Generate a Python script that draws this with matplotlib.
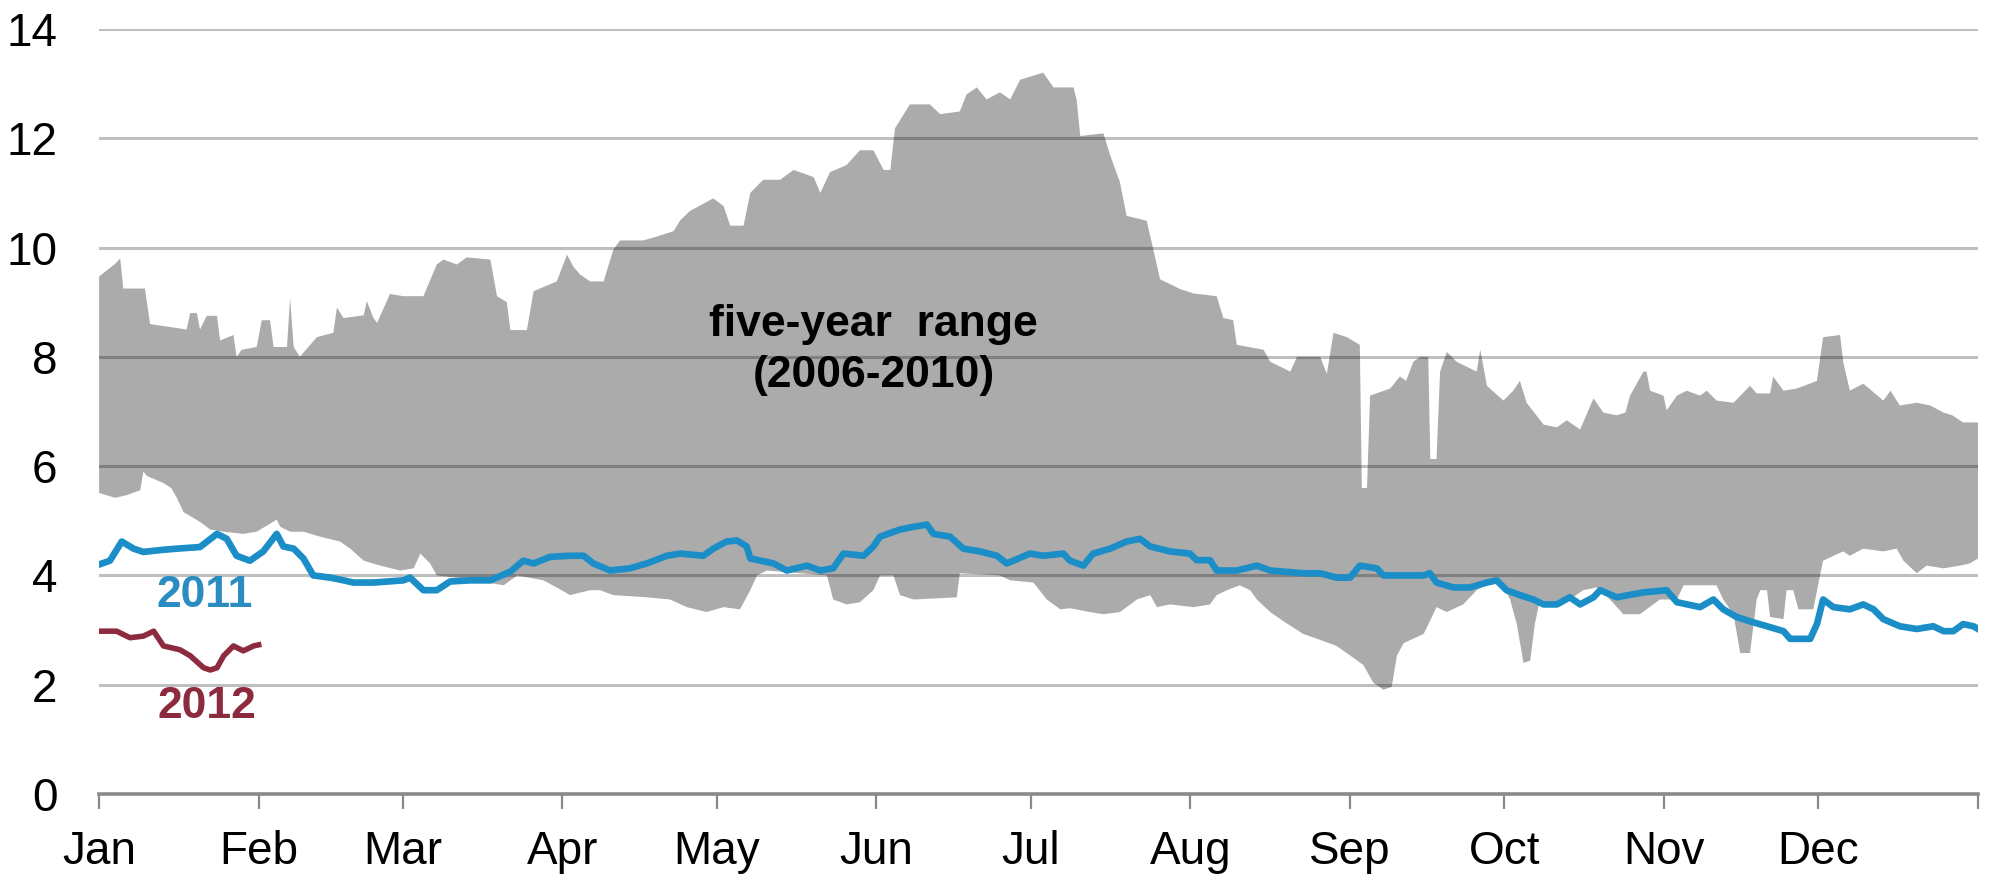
import numpy as np
import matplotlib
matplotlib.use("Agg")
import matplotlib.pyplot as plt

plt.rcParams['font.family'] = ['Liberation Sans', 'DejaVu Sans']

# ---- data (day of year, value) ----
upper_day = [0, 3.1, 4.1, 4.7, 8.9, 9.9, 17, 17.7, 19, 19.6, 20.9, 22.9, 23.5, 26.1, 26.7, 27.7, 30.6, 31.6,
             33.2, 33.9, 36.5, 37.1, 37.8, 39, 42.3, 45.5, 46.2, 47.5, 51.4, 52, 53.3, 54, 56.5, 59.1, 63,
             65.6, 66.9, 69.5, 71.4, 76, 77.3, 79.2, 79.9, 83.1, 84.4, 88.9, 90.9, 92.2, 93.4, 95.4, 98,
             99.9, 101.2, 105.7, 108.3, 111.6, 112.9, 114.8, 119.3, 121.3, 122.6, 125.2, 126.5, 129, 132.3,
             134.9, 138.8, 140.1, 142, 145.2, 147.8, 150.4, 152.4, 153.7, 154.6, 157.5, 161.4, 163.4, 167.2,
             168.5, 170.5, 172.4, 175, 177, 178.9, 183.4, 185.4, 189.3, 189.9, 190.6, 195.1, 196.4, 198.3,
             199.6, 203.5, 204.8, 206.1, 210, 212.6, 217.1, 218.4, 220.3, 221, 226.2, 227.5, 231.4, 232.7,
             237.2, 238.5, 239.8, 242.4, 244.9, 245.3, 246.3, 246.9, 250.8, 252.7, 253.9, 255.3, 256.6,
             258.2, 258.6, 259.8, 260.5, 261.8, 263.7, 267.6, 268.3, 269.6, 272.8, 274.7, 276, 277.3, 280.6,
             283.2, 285.1, 287.7, 290.3, 292.2, 294.8, 296.5, 297.4, 300, 300.6, 301.3, 303.9, 304.5, 306.5,
             308.4, 311, 312.3, 314.2, 317.5, 320.7, 322, 324.6, 325.2, 327.2, 329.8, 333.7, 334.9, 338.2,
             338.8, 340.1, 342.7, 346.6, 348, 349.8, 353.1, 355.7, 358.3, 360, 362.1, 365]
upper_val = [9.47, 9.7, 9.8, 9.25, 9.25, 8.6, 8.5, 8.8, 8.8, 8.5, 8.75, 8.75, 8.3, 8.4, 8.0, 8.13, 8.18, 8.67,
             8.67, 8.18, 8.18, 9.07, 8.18, 8.0, 8.36, 8.44, 8.9, 8.71, 8.76, 9.02, 8.71, 8.62, 9.15, 9.11, 9.11,
             9.69, 9.78, 9.69, 9.82, 9.78, 9.11, 9.0, 8.49, 8.49, 9.2, 9.38, 9.87, 9.64, 9.51, 9.38, 9.38,
             9.96, 10.13, 10.13, 10.2, 10.3, 10.5, 10.67, 10.9, 10.76, 10.4, 10.4, 11.0, 11.24, 11.24,
             11.42, 11.29, 11.0, 11.38, 11.51, 11.78, 11.78, 11.42, 11.42, 12.18, 12.62, 12.62, 12.44, 12.49,
             12.8, 12.93, 12.71, 12.84, 12.71, 13.07, 13.2, 12.93, 12.93, 12.7, 12.04, 12.09, 11.69, 11.2,
             10.58, 10.49, 9.96, 9.42, 9.24, 9.16, 9.11, 8.71, 8.67, 8.22, 8.13, 7.91, 7.73, 8.0,
             8.0, 7.69, 8.44, 8.36, 8.22, 5.6, 5.6, 7.29, 7.42, 7.64, 7.56, 7.91, 8.0,
             8.0, 6.13, 6.13, 7.73, 8.09, 7.91, 7.73, 8.13, 7.47, 7.2, 7.38, 7.56, 7.16, 6.76,
             6.71, 6.84, 6.67, 7.24, 6.98, 6.93, 6.98, 7.29, 7.73, 7.73, 7.38, 7.29, 7.02, 7.29,
             7.38, 7.29, 7.38, 7.2, 7.16, 7.47, 7.33, 7.33, 7.64, 7.38, 7.42, 7.56, 8.36, 8.4,
             7.91, 7.38, 7.51, 7.2, 7.38, 7.11, 7.16, 7.11, 6.98, 6.93, 6.8, 6.8]

lower_day = [0, 3.1, 5.4, 8, 8.6, 9.3, 12.5, 14, 15.1, 16.4, 19.6, 21.6, 24.2, 28, 30.6, 34.5, 35.2, 37.1,
             39.7, 42.9, 46.8, 48.8, 51.4, 54.6, 58.5, 61.1, 62.4, 64.3, 65.6, 69.5, 78.6, 81.2, 86.3, 88.9,
             91.5, 95.4, 97.3, 99.9, 106.4, 110.9, 114.2, 118, 121.3, 124.5, 126.5, 127.8, 129.7, 141.4,
             142.6, 145.2, 147.8, 150.4, 151.7, 154.3, 155.6, 158.2, 166.6, 167.2, 175, 177, 181.5, 184.1,
             186.7, 188.6, 192.5, 195.1, 198.3, 201.6, 204.2, 205.5, 208, 212.6, 215.8, 217.1, 219.1, 221.6,
             223.6, 224.9, 227.5, 230.1, 233.9, 237.8, 240.4, 243.7, 245.6, 247.5, 249.5, 251.1, 252.1,
             253.4, 257.3, 258.5, 259.8, 261.8, 265, 267.6, 270.8, 272.1, 274.1, 275.4, 276.7, 278, 278.9,
             279.9, 282.5, 285.7, 288.3, 290.9, 293.5, 296.1, 299.3, 300.6, 303.2, 306.5, 307.8, 311, 314.2,
             315.5, 317.5, 318.8, 320.7, 321.4, 322, 322.7, 324, 324.6, 327.2, 327.8, 329.1, 330.1, 333,
             334.3, 334.9, 338.8, 340.1, 342.7, 346.6, 349.2, 350.5, 353.1, 355, 358.3, 361.5, 363.4, 365]
lower_val = [5.51, 5.42, 5.47, 5.56, 5.9, 5.82, 5.69, 5.6, 5.42, 5.16, 4.98, 4.84, 4.8, 4.76, 4.8, 5.02, 4.89, 4.8,
             4.8, 4.71, 4.62, 4.49, 4.27, 4.18, 4.09, 4.13, 4.4, 4.22, 4.0, 3.96, 3.82, 4.0, 3.91, 3.78,
             3.64, 3.73, 3.73, 3.64, 3.6, 3.56, 3.42, 3.33, 3.42, 3.38, 3.73, 4.0, 4.09, 4.0,
             3.56, 3.47, 3.51, 3.73, 4.0, 4.0, 3.64, 3.56, 3.6, 4.04, 4.0, 3.91, 3.87, 3.56,
             3.38, 3.4, 3.33, 3.29, 3.33, 3.56, 3.64, 3.42, 3.47, 3.42, 3.47, 3.64, 3.73, 3.82,
             3.73, 3.56, 3.33, 3.16, 2.93, 2.8, 2.71, 2.49, 2.36, 2.04, 1.91, 1.96, 2.53,
             2.76, 2.93, 3.16, 3.42, 3.33, 3.47, 3.73, 3.91, 3.91, 3.56, 3.11, 2.4, 2.44, 3.11,
             3.56, 3.47, 3.56, 3.73, 3.78, 3.56, 3.29, 3.29, 3.38, 3.56, 3.56, 3.82, 3.82, 3.82,
             3.56, 3.29, 2.58, 2.58, 3.11, 3.56, 3.73, 3.73, 3.24, 3.2, 3.73, 3.73, 3.38, 3.38,
             4.0, 4.27, 4.44, 4.36, 4.49, 4.44, 4.49, 4.27, 4.04, 4.18, 4.13, 4.18, 4.22, 4.31]

y2011_day = [0, 2.1, 4.4, 6.7, 8.6, 12.5, 15.1, 19.6, 22.9, 24.8, 26.7, 29.3, 31.9, 34.5, 35.8, 37.8, 39.7,
             41.6, 44.9, 47.5, 49.4, 53.3, 59.1, 60.4, 63, 65.6, 68.2, 72.1, 76, 79.9, 82.4, 84.4, 87.6,
             91.5, 94.1, 96, 99.3, 103.1, 106.4, 110.3, 112.9, 117.4, 119.3, 121.9, 123.9, 125.8, 126.5,
             131, 133.6, 137.5, 140.1, 142.6, 144.6, 148.5, 150.4, 151.7, 155.6, 158.2, 160.8, 162.1, 165.3,
             167.9, 171.1, 174.4, 176.3, 177.6, 180.8, 183.4, 187.3, 188.6, 191.2, 193.1, 196.4, 199.6,
             202.2, 204.2, 208, 211.9, 213.2, 215.8, 217.1, 221, 224.9, 227.5, 233.9, 237.2, 240.4, 243,
             244.9, 248.2, 249.5, 253.4, 257.3, 258.5, 259.8, 263.1, 266.3, 269.6, 271.5, 273.4, 276,
             278.6, 280.6, 283.2, 285.7, 287.7, 290.3, 291.6, 294.8, 300, 304.5, 306.5, 311, 313.6, 315.5,
             318.1, 320.7, 324, 327.2, 328.5, 332.4, 333.7, 334.9, 336.9, 340.1, 342.7, 344.7, 346.6,
             349.8, 353.1, 356.3, 358.3, 360.2, 362.1, 364.1, 365]
y2011_val = [4.2, 4.27, 4.62, 4.49, 4.43, 4.47, 4.49, 4.52, 4.76, 4.67, 4.36, 4.27, 4.44, 4.76, 4.53, 4.49, 4.31,
             4.0, 3.96, 3.91, 3.87, 3.87, 3.91, 3.96, 3.73, 3.73, 3.89, 3.91, 3.91, 4.07, 4.27, 4.22, 4.34,
             4.36, 4.36, 4.22, 4.09, 4.13, 4.22, 4.36, 4.4, 4.36, 4.49, 4.62, 4.64, 4.53, 4.31,
             4.22, 4.09, 4.18, 4.09, 4.13, 4.4, 4.36, 4.53, 4.71, 4.84, 4.89, 4.93, 4.76, 4.71,
             4.49, 4.44, 4.36, 4.22, 4.27, 4.4, 4.36, 4.4, 4.27, 4.18, 4.4, 4.49, 4.62,
             4.67, 4.53, 4.44, 4.4, 4.28, 4.28, 4.09, 4.09, 4.18, 4.09, 4.04, 4.04, 3.96, 3.96,
             4.18, 4.13, 4.0, 4.0, 4.0, 4.04, 3.87, 3.78, 3.78, 3.87, 3.91, 3.73, 3.64,
             3.56, 3.47, 3.47, 3.6, 3.47, 3.6, 3.73, 3.6, 3.69, 3.73, 3.51, 3.42, 3.56, 3.38,
             3.24, 3.16, 3.07, 2.98, 2.84, 2.84, 3.11, 3.56, 3.42, 3.38, 3.47, 3.38, 3.2,
             3.07, 3.02, 3.07, 2.98, 2.98, 3.11, 3.07, 3.02]

y2012_day = [0, 3.4, 6, 8.6, 10.6, 12.5, 15.7, 17.7, 20.3, 21.6, 22.9, 24.2, 26.1, 28, 30, 31]
y2012_val = [2.98, 2.98, 2.86, 2.89, 2.98, 2.71, 2.64, 2.53, 2.31, 2.27, 2.31, 2.53, 2.71, 2.62, 2.71, 2.73]

month_starts = [0, 31, 59, 90, 120, 151, 181, 212, 243, 273, 304, 334, 365]
month_labels = ['Jan', 'Feb', 'Mar', 'Apr', 'May', 'Jun', 'Jul', 'Aug', 'Sep', 'Oct', 'Nov', 'Dec']
y_ticks = [0, 2, 4, 6, 8, 10, 12, 14]

# ---- figure ----
fig = plt.figure(figsize=(19.94, 8.77), dpi=100)
ax = fig.add_axes([0.0497, 0.0946, 0.9423, 0.8724])

poly_x = np.concatenate([upper_day, lower_day[::-1]])
poly_y = np.concatenate([upper_val, lower_val[::-1]])
ax.fill(poly_x, poly_y, color='#ababab', lw=0, zorder=1)

ax.plot(y2011_day, y2011_val, color='#1b8ec8', lw=4.8, zorder=3, solid_joinstyle='round')
ax.plot(y2012_day, y2012_val, color='#8c2a3e', lw=4.0, zorder=3, solid_joinstyle='round')

ax.set_xlim(0, 365)
ax.set_ylim(0, 14)
ax.set_yticks(y_ticks)
ax.set_yticklabels([str(v) for v in y_ticks])
ax.set_xticks(month_starts)
ax.set_xticklabels(month_labels + [''])

ax.set_axisbelow('line')
ax.yaxis.grid(True, color='black', alpha=0.25, lw=2.2)
ax.xaxis.grid(False)

for s in ['top', 'right', 'left']:
    ax.spines[s].set_visible(False)
ax.spines['bottom'].set_color('#8a8a8a')
ax.spines['bottom'].set_linewidth(2.6)
ax.spines['bottom'].set_zorder(4)

ax.tick_params(axis='y', length=0, pad=30, labelsize=33, labelcolor='black')
ax.tick_params(axis='x', direction='out', length=11, width=1.6, color='#8a8a8a',
               pad=15, labelsize=33, labelcolor='black')

ax.text(150.5, 8.6, 'five-year  range', ha='center', va='center', fontsize=32,
        fontweight='bold', color='black', zorder=5)
ax.text(150.5, 7.65, '(2006-2010)', ha='center', va='center', fontsize=32,
        fontweight='bold', color='black', zorder=5)
ax.text(20.6, 3.63, '2011', ha='center', va='center', fontsize=32,
        fontweight='bold', color='#2a8cc0', zorder=5)
ax.text(21, 1.6, '2012', ha='center', va='center', fontsize=32,
        fontweight='bold', color='#8c2a3e', zorder=5)

fig.savefig('out.png', dpi=100)
